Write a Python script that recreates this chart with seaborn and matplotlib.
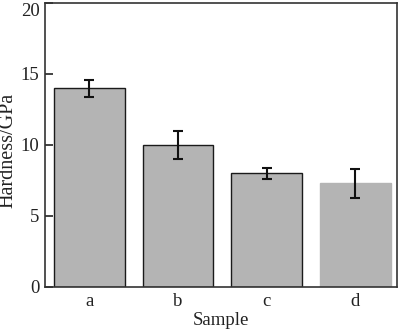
import matplotlib
matplotlib.use("Agg")
import matplotlib.pyplot as plt
import seaborn as sns
import pandas as pd

samples = ["a", "b", "c", "d"]
hardness = [14.0, 10.0, 8.0, 7.3]
hardness_err = [0.6, 1.0, 0.4, 1.0]
y_ticks = [0, 5, 10, 15, 20]

sns.set_style("ticks")
plt.rcParams["font.family"] = ["Liberation Serif", "DejaVu Serif"]

df = pd.DataFrame({"Sample": samples, "Hardness": hardness})

fig = plt.figure(figsize=(4.0, 3.31), dpi=100)
ax = fig.add_axes([0.1125, 0.133, 0.88, 0.858])

sns.barplot(data=df, x="Sample", y="Hardness", color="#b4b4b4",
            saturation=1, width=0.8, edgecolor="#1a1a1a", linewidth=1.0,
            errorbar=None, ax=ax)
# the last bar is drawn without a dark outline
ax.patches[-1].set_edgecolor("#b4b4b4")

ax.errorbar(range(len(samples)), hardness, yerr=hardness_err, fmt="none",
            ecolor="#111111", elinewidth=1.5, capsize=3.5, capthick=1.5)

ax.set_ylim(0, 20)
ax.set_xlim(-0.5, 3.47)
ax.set_yticks(y_ticks)
ax.set_yticklabels([str(t) for t in y_ticks])
ax.tick_params(axis="y", direction="in", length=6, width=1.2, labelsize=13.5,
               colors="#222222", pad=4)
ax.tick_params(axis="x", length=0, labelsize=13.5, colors="#222222", pad=4)
# keep the top tick label inside the figure
ax.get_yticklabels()[-1].set_verticalalignment("top")
for s in ax.spines.values():
    s.set_visible(True)
    s.set_color("#333333")
    s.set_linewidth(1.2)

ax.set_xlabel("Sample", fontsize=13.5, color="#222222", labelpad=2)
ax.set_ylabel("Hardness/GPa", fontsize=14.5, color="#222222")
ax.yaxis.set_label_coords(-0.077, 0.482)

fig.savefig("out.png", dpi=100)
